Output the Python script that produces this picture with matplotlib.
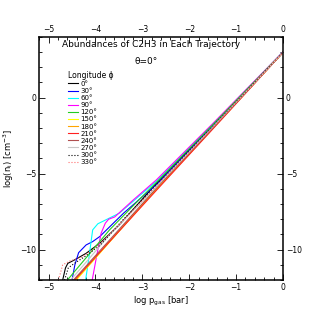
import matplotlib
matplotlib.use("Agg")
import matplotlib.pyplot as plt
import numpy as np

# longitude labels and line styles of the trajectories
longitudes = ["0°", "30°", "60°", "90°", "120°", "150°", "180°",
              "210°", "240°", "270°", "300°", "330°"]
colors = ["black", "#0000ff", "#00ffff", "#ff00ff", "#22cc22", "#ffff00",
          "#ffa500", "#ff2020", "#b05050", "#c8c8c8", "black", "#ff7070"]
styles = ["-", "-", "-", "-", "-", "-", "-", "-", "-", "-", ":", ":"]

# log p_gas [bar] and log n_i [cm^-3]
x_0 = [-4.70, -4.64, -4.59, -4.45, -4.20, -3.91, -3.50, -2.70, -1.50, 0.0]
y_0 = [-12.0, -11.2, -10.9, -10.68, -10.24, -9.58, -8.40, -5.65, -1.84, 2.97]
x_30 = [-4.50, -4.44, -4.36, -4.20, -4.06, -3.91, -3.40, -2.70, -1.50, 0.0]
y_30 = [-12.0, -11.0, -10.2, -9.69, -9.47, -9.14, -7.60, -5.72, -1.88, 2.97]
x_60 = [-4.21, -4.13, -4.06, -3.95, -3.49, -2.70, -1.50, 0.0]
y_60 = [-12.0, -10.3, -8.7, -8.3, -7.6, -5.50, -1.77, 2.99]
x_90 = [-4.07, -3.98, -3.88, -3.79, -3.72, -3.59, -3.20, -2.70, -1.50, 0.0]
y_90 = [-12.0, -10.5, -8.92, -8.26, -8.0, -7.85, -6.75, -5.41, -1.72, 3.0]
x_120 = [-4.60, -3.70, -3.00, -2.70, -1.50, 0.0]
y_120 = [-12.0, -8.70, -6.50, -5.58, -1.80, 2.98]
x_150 = [-4.41, -2.70, -1.50, 0.0]
y_150 = [-12.0, -5.98, -2.02, 2.96]
x_180 = [-4.43, -2.70, -1.50, 0.0]
y_180 = [-12.0, -6.04, -2.05, 2.96]
x_210 = [-4.45, -2.70, -1.50, 0.0]
y_210 = [-12.0, -6.10, -2.08, 2.96]
x_240 = [-4.47, -2.70, -1.50, 0.0]
y_240 = [-12.0, -5.95, -2.00, 2.96]
x_270 = [-4.53, -3.70, -2.70, -1.50, 0.0]
y_270 = [-12.0, -9.03, -5.87, -1.95, 2.96]
x_300 = [-4.66, -4.58, -4.45, -4.20, -3.90, -3.40, -2.70, -1.50, 0.0]
y_300 = [-12.0, -11.2, -10.9, -10.4, -9.7, -8.00, -5.76, -1.90, 2.96]
x_330 = [-4.79, -4.70, -4.55, -4.30, -4.00, -3.40, -2.70, -1.50, 0.0]
y_330 = [-12.0, -11.0, -10.75, -10.5, -9.9, -8.05, -5.81, -1.93, 2.96]

xs = [x_0, x_30, x_60, x_90, x_120, x_150, x_180, x_210, x_240, x_270, x_300, x_330]
ys = [y_0, y_30, y_60, y_90, y_120, y_150, y_180, y_210, y_240, y_270, y_300, y_330]

plt.rcParams["font.family"] = ["DejaVu Sans"]

fig = plt.figure(figsize=(3.19, 3.19), dpi=100)
ax = fig.add_axes([0.123, 0.122, 0.764, 0.763])

for i in range(len(longitudes)):
    ax.plot(xs[i], ys[i], color=colors[i], linestyle=styles[i],
            linewidth=0.8, label=longitudes[i])

ax.set_xlim(-5.2, 0)
ax.set_ylim(-12, 4)
ax.set_xticks([-5, -4, -3, -2, -1, 0])
ax.set_xticks(np.arange(-5.2, 0.01, 0.2), minor=True)
ax.set_yticks([0, -5, -10])
ax.set_yticks(np.arange(-12, 4.01, 1), minor=True)
ax.tick_params(which="both", direction="in", top=True, right=True,
               labeltop=True, labelright=True, labelsize=5.5, width=0.6, pad=2)
ax.tick_params(which="major", length=4)
ax.tick_params(which="minor", length=2.2)
for s in ax.spines.values():
    s.set_linewidth(1.1)

ax.set_xlabel(r"log p$_{\mathregular{gas}}$ [bar]", fontsize=6, labelpad=2)
ax.set_ylabel(r"log(n$_{\mathregular{i}}$) [cm$^{\mathregular{-3}}$]", fontsize=6, labelpad=3)

ax.text(0.46, 0.966, "Abundances of C2H3 in Each Trajectory", transform=ax.transAxes,
        ha="center", va="center", fontsize=6.5)
ax.text(0.44, 0.896, "θ=0°", transform=ax.transAxes, ha="center", va="center", fontsize=6.5)

leg = ax.legend(title="Longitude ϕ", loc="upper left", bbox_to_anchor=(0.1, 0.88),
                frameon=False, fontsize=5, title_fontsize=5.5, handlelength=1.4,
                handletextpad=0.3, labelspacing=0.16, borderpad=0.2)
leg._legend_box.align = "left"

fig.savefig("out.png", dpi=100)
